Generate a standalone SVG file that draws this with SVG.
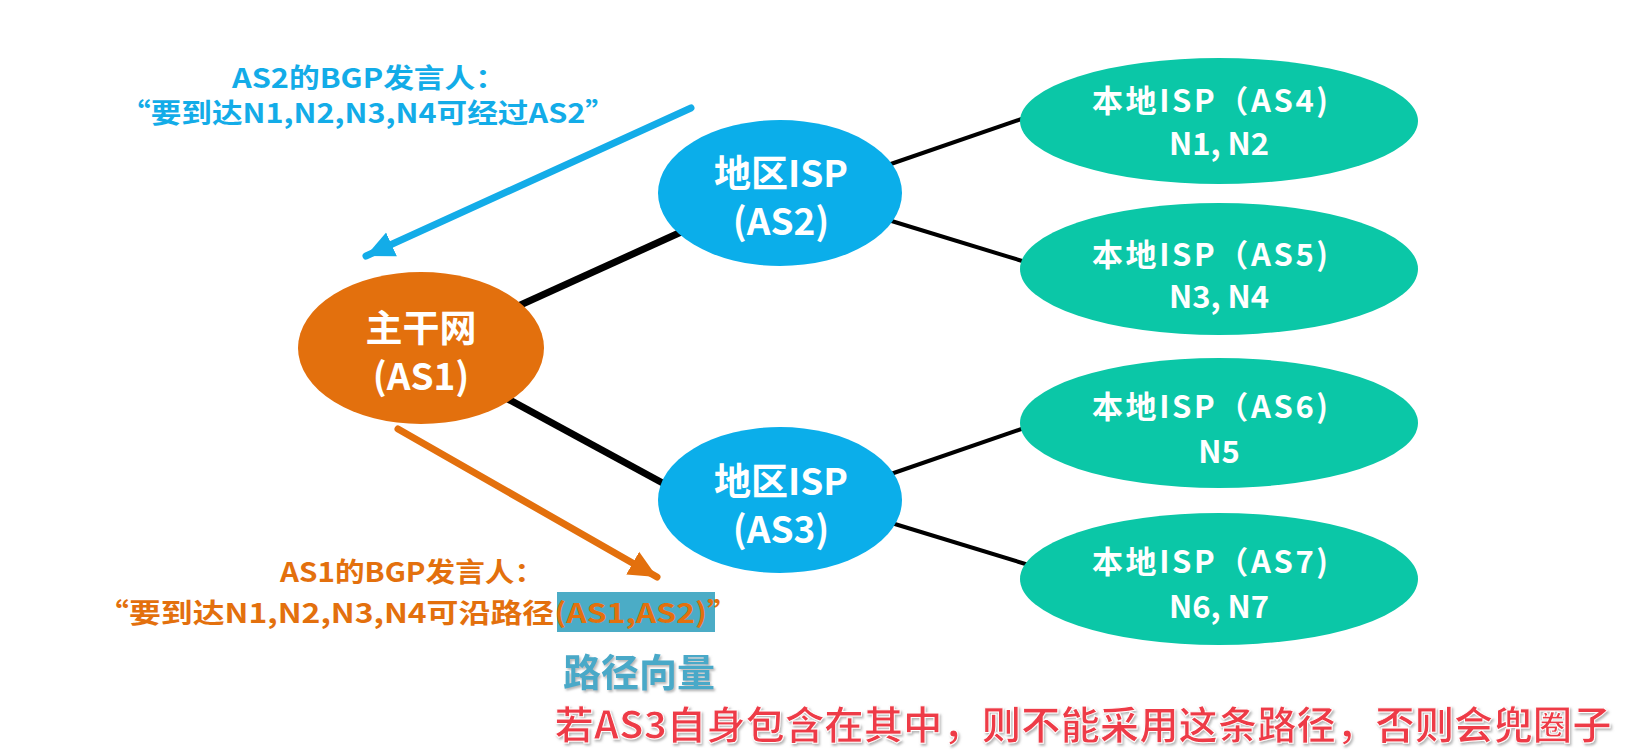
<svg xmlns="http://www.w3.org/2000/svg" width="1641" height="755" viewBox="0 0 1641 755">
<defs>
<style>
text{font-family:"Noto Sans CJK SC","Noto Sans",sans-serif;font-weight:700;text-anchor:middle}
.w{fill:#ffffff}
.nl{font-size:37px}
.ll{font-size:31px}
.blue{fill:#13ACE8}
.org{fill:#E3700D}
.c{stroke:#000;fill:none}
</style>
<marker id="ab" markerUnits="userSpaceOnUse" markerWidth="30" markerHeight="30" viewBox="0 0 30 30" refX="28" refY="15" orient="auto"><path d="M0,2 L28,15 L0,28 Z" fill="#13ACE8"/></marker>
<marker id="ao" markerUnits="userSpaceOnUse" markerWidth="30" markerHeight="30" viewBox="0 0 30 30" refX="28" refY="15" orient="auto"><path d="M0,2 L28,15 L0,28 Z" fill="#E3700D"/></marker>
<filter id="sh" x="-10%" y="-30%" width="120%" height="160%"><feDropShadow dx="1.5" dy="2" stdDeviation="1.2" flood-color="#888" flood-opacity="0.6"/></filter>
</defs>
<rect width="1641" height="755" fill="#ffffff"/>
<g id="connectors">
<line class="c" x1="505" y1="312" x2="690" y2="228" stroke-width="7"/>
<line class="c" x1="495" y1="392" x2="670" y2="487" stroke-width="7"/>
<line class="c" x1="885" y1="166" x2="1030" y2="116" stroke-width="4"/>
<line class="c" x1="885" y1="219" x2="1032" y2="264" stroke-width="4"/>
<line class="c" x1="885" y1="476" x2="1030" y2="426" stroke-width="4"/>
<line class="c" x1="885" y1="521" x2="1032" y2="566" stroke-width="4"/>
<line x1="691" y1="108" x2="366" y2="256" stroke="#13ACE8" stroke-width="7" stroke-linecap="round" marker-end="url(#ab)"/>
<line x1="398" y1="429" x2="657" y2="577" stroke="#E3700D" stroke-width="7" stroke-linecap="round" marker-end="url(#ao)"/>
</g>
<g id="as1">
<ellipse cx="421" cy="348" rx="123" ry="76" fill="#E3700D"/>
<text class="w nl" x="421" y="342">主干网</text>
<text class="w nl" x="421" y="390">(AS1)</text>
</g>
<g id="as2">
<ellipse cx="780" cy="193" rx="122" ry="73" fill="#0BAEEA"/>
<text class="w nl" x="781" y="187">地区ISP</text>
<text class="w nl" x="781" y="235">(AS2)</text>
</g>
<g id="as3">
<ellipse cx="780" cy="500" rx="122" ry="73" fill="#0BAEEA"/>
<text class="w nl" x="781" y="495">地区ISP</text>
<text class="w nl" x="781" y="543">(AS3)</text>
</g>
<g id="as4">
<ellipse cx="1219" cy="121" rx="199" ry="63" fill="#0BC7A7"/>
<text class="w ll" x="1210" y="112" textLength="236">本地ISP（AS4)</text>
<text class="w ll" x="1219" y="155">N1, N2</text>
</g>
<g id="as5">
<ellipse cx="1219" cy="269" rx="199" ry="66" fill="#0BC7A7"/>
<text class="w ll" x="1210" y="266" textLength="236">本地ISP（AS5)</text>
<text class="w ll" x="1219" y="308">N3, N4</text>
</g>
<g id="as6">
<ellipse cx="1219" cy="423" rx="199" ry="65" fill="#0BC7A7"/>
<text class="w ll" x="1210" y="418" textLength="236">本地ISP（AS6)</text>
<text class="w ll" x="1219" y="463">N5</text>
</g>
<g id="as7">
<ellipse cx="1219" cy="579" rx="199" ry="66" fill="#0BC7A7"/>
<text class="w ll" x="1210" y="573" textLength="236">本地ISP（AS7)</text>
<text class="w ll" x="1219" y="618">N6, N7</text>
</g>
<g id="labels">
<text class="blue" x="369" y="88" font-size="27" textLength="274" lengthAdjust="spacingAndGlyphs">AS2的BGP发言人：</text>
<text class="blue" x="368" y="123" font-size="27" textLength="496" lengthAdjust="spacingAndGlyphs">“要到达N1,N2,N3,N4可经过AS2”</text>
<rect x="557" y="592" width="158" height="40" fill="#4BACC6"/>
<text class="org" x="412" y="582" font-size="27" textLength="264" lengthAdjust="spacingAndGlyphs">AS1的BGP发言人：</text>
<text class="org" x="418" y="623" font-size="27" textLength="642" lengthAdjust="spacingAndGlyphs">“要到达N1,N2,N3,N4可沿路径(AS1,AS2)”</text>
<text x="639" y="686" font-size="38" fill="#4AA9C8" filter="url(#sh)">路径向量</text>
<text x="1083" y="739" font-size="39" fill="#EE3B46" stroke="#ffffff" stroke-width="1" filter="url(#sh)" textLength="1057" lengthAdjust="spacingAndGlyphs">若AS3自身包含在其中，则不能采用这条路径，否则会兜圈子</text>
</g>
</svg>
